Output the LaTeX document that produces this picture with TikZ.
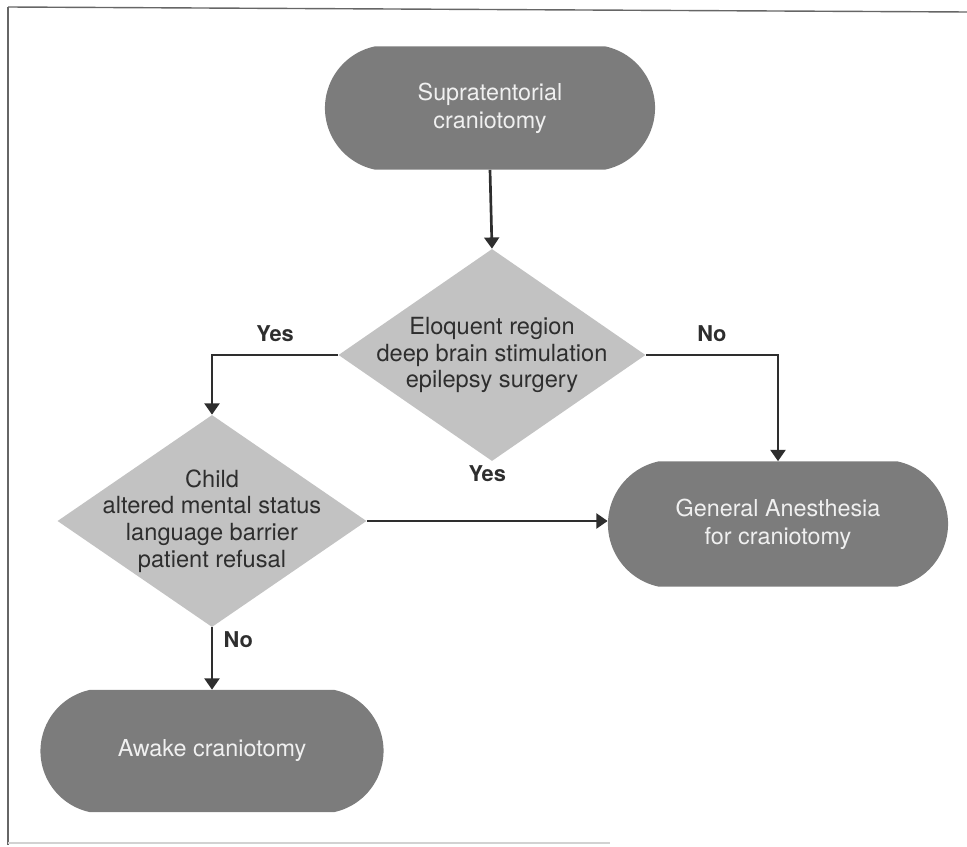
\documentclass[tikz,border=0pt]{standalone}
\usepackage{fontspec}
\setmainfont{TeX Gyre Heros}
\usetikzlibrary{arrows.meta,shapes.geometric,shapes.misc}

\definecolor{termgray}{HTML}{7C7C7C}
\definecolor{decgray}{HTML}{C2C2C2}
\definecolor{inkgray}{HTML}{2E2E2E}

\tikzset{
    termbox/.style={rounded rectangle, rounded rectangle arc length=155, fill=termgray,
        text=white!94!black, align=center, inner sep=0pt,
        font=\fontsize{16.6}{19.8}\selectfont},
    decbox/.style={diamond, fill=decgray, inner sep=0pt},
    dectext/.style={align=center, text=inkgray, inner sep=0pt,
        font=\fontsize{16.8}{19}\selectfont},
    flow/.style={draw=inkgray, line width=1.9pt, -{Triangle[length=8pt,width=10.5pt]}},
    answer/.style={font=\fontsize{15.5}{18}\selectfont\bfseries, text=inkgray}
}

\begin{document}
\begin{tikzpicture}[x=0.025cm, y=-0.025cm]

            \useasboundingbox (0,0) rectangle (967,847);

            % frame of the figure
            \draw[gray!80!black, line width=1pt] (8,7) -- (967,12);
            \draw[gray!80!black, line width=1pt] (8,7) -- (8,845);
            \draw[gray!35, line width=1pt] (8,843) -- (610,843);

            % terminals
            \node[termbox, minimum width=8.25cm, minimum height=3.075cm] (supra) at (490,108) {Supratentorial\\craniotomy};
            \node[termbox, minimum width=8.5cm, minimum height=3.125cm] (general) at (778,524) {General Anesthesia\\for craniotomy};
            \node[termbox, minimum width=8.575cm, minimum height=3.05cm] (awake) at (212,751) {Awake craniotomy};

            % decisions
            \node[decbox, minimum width=7.675cm, minimum height=5.3cm] (eloquent) at (492,355) {};
            \node[dectext] (eloquenttxt) at (eloquent.center) {Eloquent region\\deep brain stimulation\\epilepsy surgery};

            \node[decbox, minimum width=7.725cm, minimum height=5.3cm] (child) at (212,521) {};
            \node[dectext] (childtxt) at (child.center) {Child\\altered mental status\\language barrier\\patient refusal};

            % connectors
            \draw[flow] (supra.south) -- (eloquent.north);
            \draw[flow] (eloquent.west) -| (child.north) node[answer, pos=0.25, above=5pt] {Yes};
            \draw[flow] (eloquent.east) -| (general.north) node[answer, pos=0.25, above=5pt] {No};
            \draw[flow] (child.east) -- (child.east -| general.west) node[answer, midway, above=24pt] {Yes};
            \draw[flow] (child.south) -- (awake.north) node[answer, pos=0.2, right=4pt] {No};

        \end{tikzpicture}
\end{document}
